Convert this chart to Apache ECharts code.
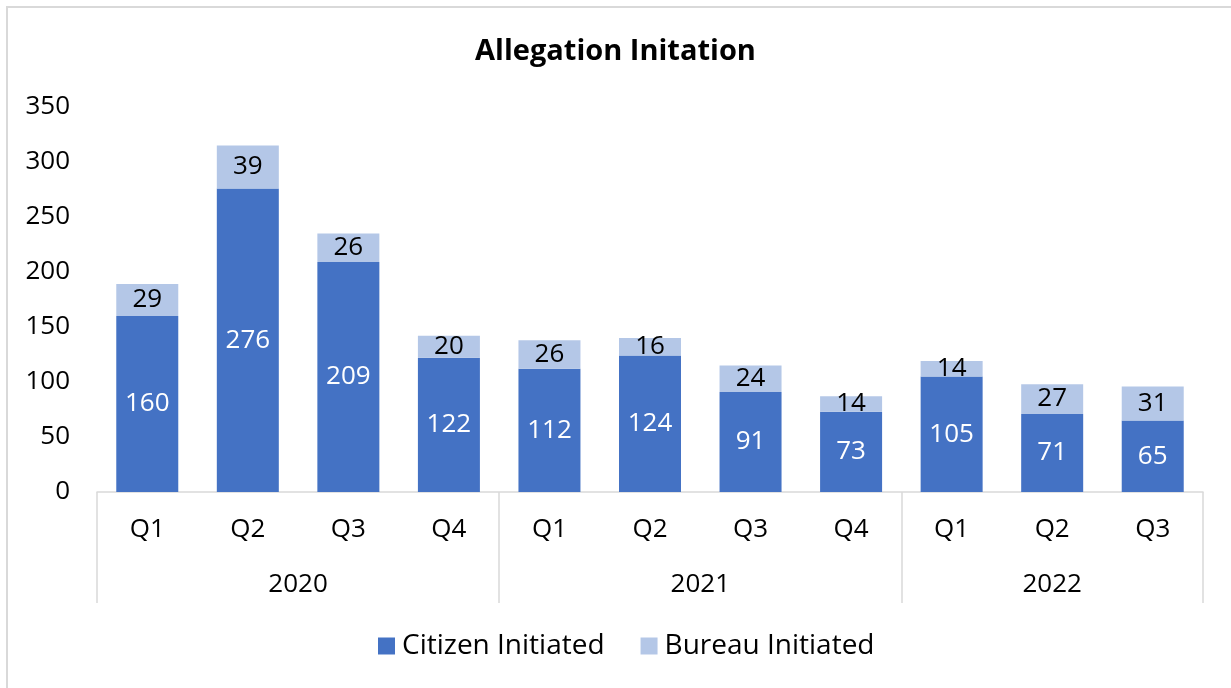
<!DOCTYPE html>
<html>
<head>
<meta charset="utf-8">
<script src="https://cdn.jsdelivr.net/npm/echarts@6/dist/echarts.min.js"></script>
<style>
  html, body { margin: 0; padding: 0; background: #fff; }
  #chart { width: 1231px; height: 688px; }
</style>
</head>
<body>
<div id="chart"></div>
<script>
// Quarterly allegation counts by origin
const quarters = ['Q1', 'Q2', 'Q3', 'Q4', 'Q1', 'Q2', 'Q3', 'Q4', 'Q1', 'Q2', 'Q3'];
const citizenInitiated = [160, 276, 209, 122, 112, 124, 91, 73, 105, 71, 65];
const bureauInitiated = [29, 39, 26, 20, 26, 16, 24, 14, 14, 27, 31];

// Year groups: name and number of quarters in each
const years = ['2020', '2021', '2022'];
const quartersPerYear = [4, 4, 3];

// Half-quarter slots for the year row: slot 2*q lies on quarter boundary q,
// so a year label sits at the middle of its group and separators at group edges.
const yearSlots = [];
const yearTickSlots = [0];
let qStart = 0;
years.forEach((y, i) => {
  yearTickSlots.push(2 * (qStart + quartersPerYear[i]));
  qStart += quartersPerYear[i];
});
for (let s = 0; s <= 2 * quarters.length; s++) yearSlots.push('');
qStart = 0;
years.forEach((y, i) => {
  yearSlots[qStart * 2 + quartersPerYear[i]] = y;
  qStart += quartersPerYear[i];
});

const FONT = '"Open Sans"';
const gray = '#d9d9d9';

const chart = echarts.init(document.getElementById('chart'));
chart.setOption({
  backgroundColor: '#fff',
  textStyle: { fontFamily: FONT },
  title: {
    text: 'Allegation Initation',
    left: 'center',
    top: 32,
    textStyle: { fontFamily: FONT, fontSize: 29, fontWeight: 'bold', color: '#000' }
  },
  legend: {
    bottom: 23,
    left: 373,
    itemWidth: 17,
    itemHeight: 17,
    itemGap: 36,
    icon: 'rect',
    textStyle: { fontFamily: FONT, fontSize: 28, color: '#000', padding: [0, 0, 0, 2] },
    data: ['Citizen Initiated', 'Bureau Initiated']
  },
  grid: { left: 97, right: 28, top: 107, bottom: 196, containLabel: false },
  xAxis: [
    {
      type: 'category',
      data: quarters,
      position: 'bottom',
      axisLine: { show: true, lineStyle: { color: gray, width: 1.5 } },
      axisTick: { show: false },
      axisLabel: { fontFamily: FONT, fontSize: 26, color: '#000', margin: 25, interval: 0 }
    },
    {
      type: 'category',
      data: yearSlots,
      position: 'bottom',
      boundaryGap: false,
      axisLine: { show: false },
      axisTick: {
        show: true,
        length: 111,
        interval: (idx) => yearTickSlots.includes(idx),
        lineStyle: { color: gray, width: 1.5 }
      },
      axisLabel: {
        fontFamily: FONT, fontSize: 26, color: '#000', margin: 80, interval: 0
      },
      splitLine: { show: false }
    }
  ],
  yAxis: {
    type: 'value',
    min: 0,
    max: 350,
    interval: 50,
    axisLine: { show: false },
    axisTick: { show: false },
    splitLine: { show: false },
    axisLabel: { fontFamily: FONT, fontSize: 26, color: '#000', margin: 27 }
  },
  series: [
    {
      name: 'Citizen Initiated',
      type: 'bar',
      stack: 'total',
      xAxisIndex: 0,
      barWidth: 62,
      data: citizenInitiated,
      itemStyle: { color: '#4472c4' },
      label: { show: true, position: 'inside', color: '#fff', fontFamily: FONT, fontSize: 26 }
    },
    {
      name: 'Bureau Initiated',
      type: 'bar',
      stack: 'total',
      xAxisIndex: 0,
      barWidth: 62,
      data: bureauInitiated,
      itemStyle: { color: '#b4c7e7' },
      label: { show: true, position: 'inside', color: '#000', fontFamily: FONT, fontSize: 26 }
    }
  ],
  graphic: [
    { type: 'rect', shape: { x: 6, y: 6, width: 2, height: 700 }, style: { fill: gray }, silent: true },
    { type: 'rect', shape: { x: 6, y: 6, width: 1300, height: 2 }, style: { fill: gray }, silent: true }
  ]
});
</script>
</body>
</html>
